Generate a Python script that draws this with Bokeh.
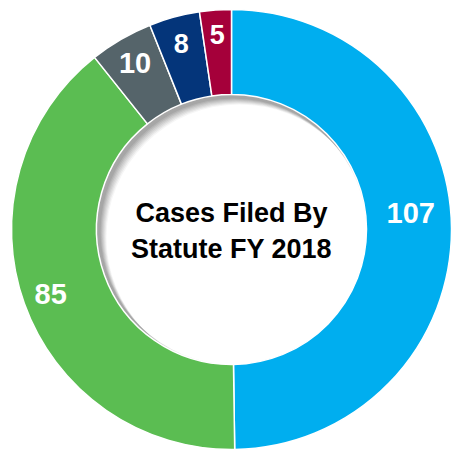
import math
from bokeh.plotting import figure
from bokeh.models import Range1d, ColumnDataSource
from bokeh.core.properties import value
from bokeh.embed import file_html
from bokeh.resources import INLINE

# ---- data ----
categories = ["Statute A", "Statute B", "Statute C", "Statute D", "Statute E"]
counts = [107, 85, 10, 8, 5]
colors = ["#00AEEF", "#5BBD52", "#55646A", "#04357A", "#A5003A"]
title_text = "Cases Filed By\nStatute FY 2018"

# ---- label styling (sizes, radial placement tweaks) ----
label_sizes = ["29px", "29px", "29px", "27px", "27px"]
label_radius = [180, 192, 192, 193, 196]
label_angle_shift_deg = [5.0, 0.0, 0.0, 0.0, 0.0]

W, H = 451, 452
cx, cy = 231, 223
r_out, r_in = 220, 135

total = float(sum(counts))
starts, ends, lx, ly = [], [], [], []
cum = 0
for i, c in enumerate(counts):
    a0 = math.pi / 2 - 2 * math.pi * cum / total
    cum += c
    a1 = math.pi / 2 - 2 * math.pi * cum / total
    starts.append(a0)
    ends.append(a1)
    mid = (a0 + a1) / 2 + math.radians(label_angle_shift_deg[i])
    lx.append(cx + label_radius[i] * math.cos(mid))
    ly.append(cy + label_radius[i] * math.sin(mid))

src = ColumnDataSource(dict(cat=categories, val=counts, color=colors,
                            start=starts, end=ends, lx=lx, ly=ly,
                            txt=[str(v) for v in counts], size=label_sizes))

p = figure(width=W, height=H, output_backend="svg", toolbar_location=None,
           x_range=Range1d(0, W), y_range=Range1d(0, H), min_border=0,
           outline_line_color=None, background_fill_color="white")
p.axis.visible = False
p.grid.visible = False

# soft inner shadow (ring shadow cast down-right into the hole)
for off, a in [(8, 0.05), (7, 0.07), (6, 0.08), (5, 0.09), (4, 0.1), (3, 0.11), (2, 0.12)]:
    p.annulus(x=cx + off, y=cy - off, inner_radius=r_in - 2, outer_radius=r_in + 20,
              fill_color="#4a4a4a", fill_alpha=a, line_color=None)

p.annular_wedge(x=cx, y=cy, inner_radius=r_in, outer_radius=r_out,
                start_angle="start", end_angle="end", direction="clock",
                fill_color="color", line_color="white", line_width=1.5, source=src)

p.text(x="lx", y="ly", text="txt", source=src, text_color="white",
       text_font=value("Liberation Sans"), text_font_style="bold",
       text_font_size="size", text_align="center", text_baseline="middle")

p.text(x=[cx], y=[cy - 1], text=[title_text], text_color="black",
       text_font=value("Liberation Sans"), text_font_style="bold",
       text_font_size="27px", text_align="center", text_baseline="middle",
       text_line_height=1.2)

open("out.html", "w").write(file_html(p, INLINE))
